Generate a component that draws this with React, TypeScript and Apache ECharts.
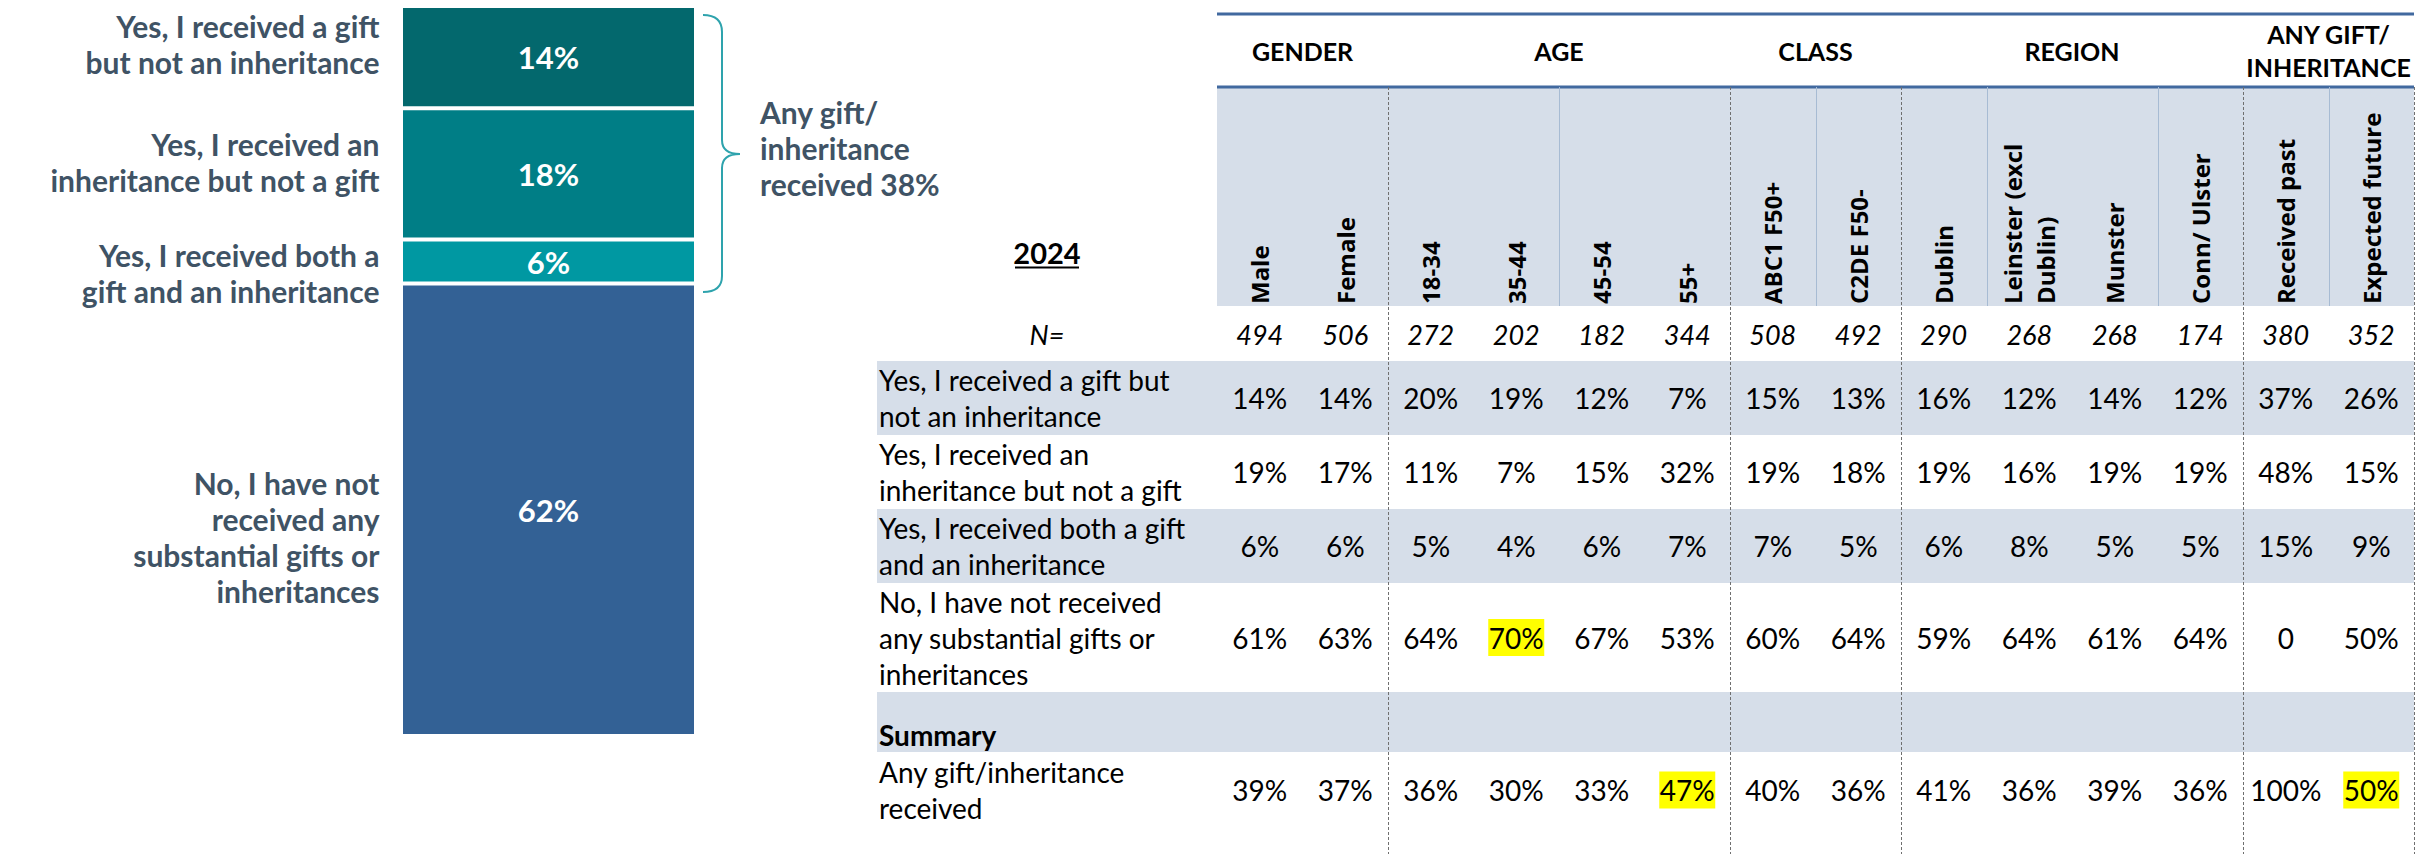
import React, { useEffect, useRef } from "react";
import * as echarts from "echarts";

// ---------------- data: left stacked bar ----------------
const answerNames = [
  "Yes, I received a gift\nbut not an inheritance",
  "Yes, I received an\ninheritance but not a gift",
  "Yes, I received both a\ngift and an inheritance",
  "No, I have not\nreceived any\nsubstantial gifts or\ninheritances",
];
const answerShares = [14, 18, 6, 62];
const anyGiftTotalLabel = "Any gift/\ninheritance\nreceived 38%";

// ---------------- data: table ----------------
const yearLabel = "2024";
const baseLabel = "N=";
const columns = [
  "Male",
  "Female",
  "18-34",
  "35-44",
  "45-54",
  "55+",
  "ABC1 F50+",
  "C2DE F50-",
  "Dublin",
  "Leinster (excl\nDublin)",
  "Munster",
  "Conn/ Ulster",
  "Received past",
  "Expected future",
];
const groupNames = ["GENDER", "AGE", "CLASS", "REGION", "ANY GIFT/\nINHERITANCE"];
const groupFirst = [0, 2, 6, 8, 12];
const groupLast = [1, 5, 7, 11, 13];
const baseN = [494, 506, 272, 202, 182, 344, 508, 492, 290, 268, 268, 174, 380, 352];
const rowLabels = [
  "Yes, I received a gift but\nnot an inheritance",
  "Yes, I received an\ninheritance but not a gift",
  "Yes, I received both a gift\nand an inheritance",
  "No, I have not received\nany substantial gifts or\ninheritances",
];
const giftOnly = [14, 14, 20, 19, 12, 7, 15, 13, 16, 12, 14, 12, 37, 26];
const inheritanceOnly = [19, 17, 11, 7, 15, 32, 19, 18, 19, 16, 19, 19, 48, 15];
const bothGiftInheritance = [6, 6, 5, 4, 6, 7, 7, 5, 6, 8, 5, 5, 15, 9];
const noneReceived = [61, 63, 64, 70, 67, 53, 60, 64, 59, 64, 61, 64, 0, 50];
const summaryTitle = "Summary";
const summaryLabel = "Any gift/inheritance\nreceived";
const anyGiftReceived = [39, 37, 36, 30, 33, 47, 40, 36, 41, 36, 39, 36, 100, 50];
const highlightNone = [3];
const highlightAnyGift = [5, 13];

// ---------------- styles / layout ----------------
const W = 2432;
const H = 854;
const barColors = ["#03686D", "#007E86", "#0098A2", "#336195"];
const slate = "#3F5365";
const braceColor = "#2EA3AD";
const shade = "#D6DEE9";
const ruleBlue = "#41699F";
const labelNudge = [-13, -12, 11, 27];
const LABEL_COL_W = 340;
const rowHeights = [73, 219, 55, 74, 74, 74, 109, 60, 76, 26];
const rowTops: number[] = [];
rowHeights.reduce((acc, h) => {
  rowTops.push(acc);
  return acc + h;
}, 0);
const tableTotal = rowHeights.reduce((a, b) => a + b, 0);
const shadedRows = [1, 3, 5, 7];
const headerDividersAfter = [3, 6, 8, 10, 12];
const FONT = "Lato, 'Open Sans', sans-serif";

const bracePath =
  "M703,15 Q722,15 722,32 L722,140 Q722,154 740,154 Q722,154 722,168 L722,276 Q722,292 703,292";
echarts.graphic.registerShape("brace", echarts.graphic.extendPath(bracePath, {}) as any);

const fmt = (v: number) => (v === 0 ? "0" : v + "%");

type TextItem = {
  kind: "group" | "colHead" | "col" | "labelLeft" | "labelCenter";
  row: number;
  col?: number;
  from?: number;
  to?: number;
  dy?: number;
  text: string;
  font: string;
  lineHeight?: number;
  hl?: boolean;
  underline?: boolean;
};

function buildTexts(): TextItem[] {
  const t: TextItem[] = [];
  groupNames.forEach((g, i) =>
    t.push({ kind: "group", row: 0, from: groupFirst[i], to: groupLast[i], text: g, font: `bold 25px ${FONT}`, lineHeight: 33 })
  );
  columns.forEach((c, i) =>
    t.push({ kind: "colHead", row: 1, col: i, text: c, font: `bold 24px 'Open Sans', sans-serif`, lineHeight: 33 })
  );
  t.push({ kind: "labelCenter", row: 1, dy: 56, text: yearLabel, font: `bold 29px ${FONT}`, underline: true });
  t.push({ kind: "labelCenter", row: 2, dy: 1, text: baseLabel, font: `italic 27px ${FONT}` });
  baseN.forEach((n, i) => t.push({ kind: "col", row: 2, col: i, dy: 1, text: String(n), font: `italic 27px ${FONT}` }));
  const answerRows = [giftOnly, inheritanceOnly, bothGiftInheritance, noneReceived];
  answerRows.forEach((arr, r) => {
    t.push({ kind: "labelLeft", row: 3 + r, text: rowLabels[r], font: `28px ${FONT}`, lineHeight: 36 });
    arr.forEach((v, i) =>
      t.push({ kind: "col", row: 3 + r, col: i, text: fmt(v), font: `28px ${FONT}`, hl: r === 3 && highlightNone.includes(i) })
    );
  });
  t.push({ kind: "labelLeft", row: 7, dy: 13, text: summaryTitle, font: `bold 28px ${FONT}` });
  t.push({ kind: "labelLeft", row: 8, text: summaryLabel, font: `28px ${FONT}`, lineHeight: 36 });
  anyGiftReceived.forEach((v, i) =>
    t.push({ kind: "col", row: 8, col: i, text: fmt(v), font: `28px ${FONT}`, hl: highlightAnyGift.includes(i) })
  );
  return t;
}

type LineItem = { kind: "rule" | "dash" | "light"; row?: number; after?: number };
function buildLines(): LineItem[] {
  const l: LineItem[] = [{ kind: "rule", row: 0 }, { kind: "rule", row: 1 }];
  groupLast.forEach((c) => l.push({ kind: "dash", after: c }));
  headerDividersAfter.forEach((c) => l.push({ kind: "light", after: c }));
  return l;
}

export default function App() {
  const ref = useRef<HTMLDivElement>(null);
  useEffect(() => {
    document.body.style.margin = "0";
    if (!ref.current) return;
    const chart = echarts.init(ref.current, undefined, { renderer: "svg", width: W, height: H });
    const texts = buildTexts();
    const lines = buildLines();
    const nCols = columns.length;

    // stacked bar series, bottom to top
    const barSeries = answerShares
      .map((v, i) => ({
        type: "bar",
        name: answerNames[i],
        stack: "total",
        xAxisIndex: 0,
        yAxisIndex: 0,
        barWidth: "100%",
        data: [v],
        itemStyle: { color: barColors[i], borderColor: "#ffffff", borderWidth: 2 },
        label: {
          show: true,
          position: "inside",
          formatter: "{c}%",
          color: "#ffffff",
          fontFamily: FONT,
          fontWeight: "bold",
          fontSize: 31,
        },
      }))
      .reverse();

    const bgSeries = {
      type: "custom",
      xAxisIndex: 1,
      yAxisIndex: 1,
      z: 1,
      silent: true,
      data: shadedRows.map((r) => [0, rowTops[r]]),
      renderItem: (params: any, api: any) => {
        const r = shadedRows[params.dataIndex];
        const bw = api.size([1, 0])[0];
        const p0 = api.coord([0, rowTops[r]]);
        const p1 = api.coord([nCols - 1, rowTops[r] + rowHeights[r]]);
        const x0 = r === 1 ? p0[0] - bw / 2 : p0[0] - bw / 2 - LABEL_COL_W;
        const x1 = p1[0] + bw / 2;
        return {
          type: "rect",
          shape: { x: x0, y: p0[1], width: x1 - x0, height: p1[1] - p0[1] },
          style: { fill: shade },
        };
      },
    };

    const lineSeries = {
      type: "custom",
      xAxisIndex: 1,
      yAxisIndex: 1,
      z: 2,
      silent: true,
      data: lines.map((l) => [l.after ?? 0, l.row !== undefined ? rowTops[l.row] : 0]),
      renderItem: (params: any, api: any) => {
        const l = lines[params.dataIndex];
        const bw = api.size([1, 0])[0];
        if (l.kind === "rule") {
          const y = api.coord([0, rowTops[l.row as number]])[1];
          const xa = api.coord([0, 0])[0] - bw / 2;
          const xb = api.coord([nCols - 1, 0])[0] + bw / 2;
          return { type: "line", shape: { x1: xa, y1: y, x2: xb, y2: y }, style: { stroke: ruleBlue, lineWidth: 3 } };
        }
        const x = Math.round(api.coord([l.after as number, 0])[0] + bw / 2) + 0.5;
        const yTop = api.coord([0, rowTops[1]])[1];
        if (l.kind === "dash") {
          const yBot = api.coord([0, tableTotal])[1];
          return {
            type: "line",
            shape: { x1: x, y1: yTop, x2: x, y2: yBot },
            style: { stroke: "#6F6F6F", lineWidth: 1, lineDash: [3, 2] },
          };
        }
        const yBot = api.coord([0, rowTops[2]])[1];
        return { type: "line", shape: { x1: x, y1: yTop, x2: x, y2: yBot }, style: { stroke: "#A7BBD3", lineWidth: 1 } };
      },
    };

    const textSeries = {
      type: "custom",
      xAxisIndex: 1,
      yAxisIndex: 1,
      z: 3,
      silent: true,
      data: texts.map((t) => [t.col ?? 0, rowTops[t.row]]),
      renderItem: (params: any, api: any) => {
        const t = texts[params.dataIndex];
        const bw = api.size([1, 0])[0];
        const yCenter = api.coord([0, rowTops[t.row] + rowHeights[t.row] / 2])[1] + (t.dy || 0);
        const labelLeft = api.coord([0, 0])[0] - bw / 2 - LABEL_COL_W;
        const baseStyle: any = {
          text: t.text,
          font: t.font,
          fill: "#000000",
          lineHeight: t.lineHeight,
        };
        if (t.kind === "colHead") {
          const x = api.coord([t.col as number, 0])[0];
          const yb = api.coord([0, rowTops[2]])[1] - 2;
          return {
            type: "text",
            x,
            y: yb,
            rotation: Math.PI / 2,
            style: { ...baseStyle, align: "left", verticalAlign: "middle", textAlign: "left", textVerticalAlign: "middle" },
          };
        }
        let x = 0;
        let align = "center";
        if (t.kind === "col") x = api.coord([t.col as number, 0])[0];
        else if (t.kind === "group") x = (api.coord([t.from as number, 0])[0] + api.coord([t.to as number, 0])[0]) / 2;
        else if (t.kind === "labelLeft") {
          x = labelLeft + 2;
          align = "left";
        } else x = labelLeft + LABEL_COL_W / 2;
        const textEl = {
          type: "text",
          x,
          y: yCenter,
          style: { ...baseStyle, align, verticalAlign: "middle", textAlign: align, textVerticalAlign: "middle" },
        };
        const children: any[] = [];
        if (t.hl) {
          const w = t.text.length * 18 + 2;
          children.push({ type: "rect", shape: { x: x - w / 2, y: yCenter - 18.5, width: w, height: 37 }, style: { fill: "#FFFF00" } });
        }
        children.push(textEl);
        if (t.underline) {
          children.push({
            type: "line",
            shape: { x1: x - 32, y1: yCenter + 15, x2: x + 32, y2: yCenter + 15 },
            style: { stroke: "#000000", lineWidth: 2 },
          });
        }
        return { type: "group", children };
      },
    };

    chart.setOption({
      animation: false,
      grid: [
        { left: 401, top: 6, width: 295, height: 730 },
        { left: 1217, top: 14, width: 1197, height: tableTotal },
      ],
      xAxis: [
        { type: "category", gridIndex: 0, data: [yearLabel], show: false },
        { type: "category", gridIndex: 1, data: columns, show: false },
      ],
      yAxis: [
        { type: "value", gridIndex: 0, min: 0, max: 100, show: false },
        { type: "value", gridIndex: 1, min: 0, max: tableTotal, inverse: true, show: false },
      ],
      series: [...barSeries, bgSeries, lineSeries, textSeries],
    } as any);

    // left-hand segment labels, placed from the bar's own scale
    const graphics: any[] = [];
    let top = 100;
    answerShares.forEach((v, i) => {
      const center = top - v / 2;
      top -= v;
      const p = chart.convertToPixel({ xAxisIndex: 0, yAxisIndex: 0 } as any, [0, center]) as number[];
      const barMid = chart.convertToPixel({ xAxisIndex: 0, yAxisIndex: 0 } as any, [0, 0]) as number[];
      graphics.push({
        type: "text",
        x: barMid[0] - 147 - 22,
        y: p[1] + labelNudge[i],
        style: {
          text: answerNames[i],
          font: `bold 30px ${FONT}`,
          fill: slate,
          lineHeight: 36,
          align: "right",
          verticalAlign: "middle",
          textAlign: "right",
          textVerticalAlign: "middle",
        },
      });
    });
    graphics.push({
      type: "brace",
      x: 0,
      y: 0,
      style: { stroke: braceColor, fill: "none", lineWidth: 2 },
    });
    graphics.push({
      type: "text",
      x: 760,
      y: 148,
      style: {
        text: anyGiftTotalLabel,
        font: `bold 30px ${FONT}`,
        fill: slate,
        lineHeight: 36,
        align: "left",
        verticalAlign: "middle",
        textAlign: "left",
        textVerticalAlign: "middle",
      },
    });
    chart.setOption({ graphic: graphics } as any);

    return () => chart.dispose();
  }, []);
  return <div ref={ref} style={{ width: W, height: H }} />;
}
